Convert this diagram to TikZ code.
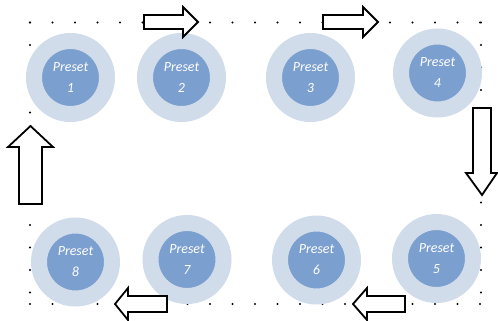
\documentclass[tikz,border=0pt]{standalone}
\usepackage{fontspec}
\setmainfont{Carlito}
\definecolor{ring}{RGB}{209,220,235}
\definecolor{core}{RGB}{123,159,206}

\begin{document}
\begin{tikzpicture}[x=1pt,y=-1pt, inner sep=0pt,
  preset/.style={circle,minimum size=73pt,outer sep=0pt,line width=16pt,draw=ring,fill=core,
    text=white,align=center,font=\itshape\fontsize{14}{21}\selectfont},
  dots/.style={line width=2.2pt,line cap=round,dash pattern=on 0pt off 22.5pt},
  blockarrow/.style={line width=1.8pt,draw=black,fill=white,line join=miter}]
\useasboundingbox (0,0) rectangle (498,321);
\coordinate (tl) at (30,22.5);
\coordinate (tr) at (481,22.5);
\coordinate (bl) at (30,304);
\coordinate (br) at (481,304);
\draw[dots] (tl) -- (tr);
\draw[dots] (tl) -- (bl);
\draw[dots] (tr) -- (br);
\draw[dots] (bl) -- (br);
\node (p1) at (70.5,77.5) [preset] {Preset\\1};
\node (p2) at (181.5,77.5) [preset] {Preset\\2};
\node (p3) at (310.5,77.5) [preset] {Preset\\3};
\node (p4) at (437.5,73) [preset] {Preset\\4};
\node (p5) at (436.5,258.5) [preset] {Preset\\5};
\node (p6) at (316.5,260) [preset] {Preset\\6};
\node (p7) at (187,259.5) [preset] {Preset\\7};
\node (p8) at (75.5,262) [preset] {Preset\\8};
\draw[blockarrow] (144,15) -- (183,15) -- (183,7) -- (198,22) -- (183,37) -- (183,29) -- (144,29) -- cycle;
\draw[blockarrow] (323,15) -- (363,15) -- (363,7) -- (378,22) -- (363,37) -- (363,29) -- (323,29) -- cycle;
\draw[blockarrow] (473,108) -- (491,108) -- (491,173) -- (497,173) -- (482,195) -- (466,173) -- (473,173) -- cycle;
\draw[blockarrow] (405,296) -- (367,296) -- (367,288) -- (353,304) -- (367,320) -- (367,312) -- (405,312) -- cycle;
\draw[blockarrow] (167,296) -- (128,296) -- (128,288) -- (115,304) -- (128,320) -- (128,312) -- (167,312) -- cycle;
\draw[blockarrow] (19,204) -- (19,147) -- (8,147) -- (30.5,126) -- (53,147) -- (42,147) -- (42,204) -- cycle;
\end{tikzpicture}
\end{document}
